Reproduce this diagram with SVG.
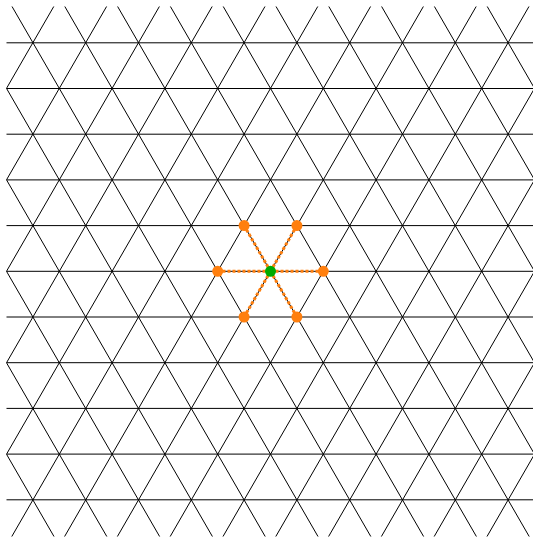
<svg xmlns="http://www.w3.org/2000/svg" width="533" height="537" viewBox="0 0 533 537">
<defs>
<clipPath id="plot"><rect x="6.5" y="6.5" width="527" height="530"/></clipPath>
<style>
.grid line{stroke:#000;stroke-width:1;fill:none}
.edge{stroke:#ff7f0e;stroke-width:3;stroke-dasharray:3 2}
.nb{fill:#ff7f0e}
.ctr{fill:#00aa00}
</style>
</defs>
<rect width="533" height="537" fill="#fff"/>
<g id="lattice" class="grid" clip-path="url(#plot)">
<line x1="0" y1="42.8" x2="540" y2="42.8"/>
<line x1="0" y1="88.5" x2="540" y2="88.5"/>
<line x1="0" y1="134.2" x2="540" y2="134.2"/>
<line x1="0" y1="179.9" x2="540" y2="179.9"/>
<line x1="0" y1="225.6" x2="540" y2="225.6"/>
<line x1="0" y1="271.3" x2="540" y2="271.3"/>
<line x1="0" y1="317" x2="540" y2="317"/>
<line x1="0" y1="362.7" x2="540" y2="362.7"/>
<line x1="0" y1="408.4" x2="540" y2="408.4"/>
<line x1="0" y1="454.1" x2="540" y2="454.1"/>
<line x1="0" y1="499.8" x2="540" y2="499.8"/>
<line x1="-312.8" y1="550" x2="10.5" y2="-10"/>
<line x1="-260" y1="550" x2="63.3" y2="-10"/>
<line x1="-207.2" y1="550" x2="116.1" y2="-10"/>
<line x1="-154.4" y1="550" x2="168.9" y2="-10"/>
<line x1="-101.6" y1="550" x2="221.7" y2="-10"/>
<line x1="-48.8" y1="550" x2="274.5" y2="-10"/>
<line x1="4" y1="550" x2="327.3" y2="-10"/>
<line x1="56.8" y1="550" x2="380.1" y2="-10"/>
<line x1="109.6" y1="550" x2="432.9" y2="-10"/>
<line x1="162.4" y1="550" x2="485.7" y2="-10"/>
<line x1="215.2" y1="550" x2="538.5" y2="-10"/>
<line x1="268" y1="550" x2="591.3" y2="-10"/>
<line x1="320.8" y1="550" x2="644.1" y2="-10"/>
<line x1="373.6" y1="550" x2="696.9" y2="-10"/>
<line x1="426.4" y1="550" x2="749.7" y2="-10"/>
<line x1="479.2" y1="550" x2="802.5" y2="-10"/>
<line x1="532" y1="550" x2="855.3" y2="-10"/>
<line x1="9" y1="550" x2="-314.3" y2="-10"/>
<line x1="61.8" y1="550" x2="-261.5" y2="-10"/>
<line x1="114.6" y1="550" x2="-208.7" y2="-10"/>
<line x1="167.4" y1="550" x2="-155.9" y2="-10"/>
<line x1="220.2" y1="550" x2="-103.1" y2="-10"/>
<line x1="273" y1="550" x2="-50.3" y2="-10"/>
<line x1="325.8" y1="550" x2="2.5" y2="-10"/>
<line x1="378.6" y1="550" x2="55.3" y2="-10"/>
<line x1="431.4" y1="550" x2="108.1" y2="-10"/>
<line x1="484.2" y1="550" x2="160.9" y2="-10"/>
<line x1="537" y1="550" x2="213.7" y2="-10"/>
<line x1="589.8" y1="550" x2="266.5" y2="-10"/>
<line x1="642.6" y1="550" x2="319.3" y2="-10"/>
<line x1="695.4" y1="550" x2="372.1" y2="-10"/>
<line x1="748.2" y1="550" x2="424.9" y2="-10"/>
<line x1="801" y1="550" x2="477.7" y2="-10"/>
<line x1="853.8" y1="550" x2="530.5" y2="-10"/>
</g>
<g id="connectors">
<line class="edge" x1="270.5" y1="271.3" x2="323.3" y2="271.3"/>
<line class="edge" x1="270.5" y1="271.3" x2="217.7" y2="271.3"/>
<line class="edge" x1="270.5" y1="271.3" x2="296.9" y2="225.6"/>
<line class="edge" x1="270.5" y1="271.3" x2="244.1" y2="225.6"/>
<line class="edge" x1="270.5" y1="271.3" x2="296.9" y2="317"/>
<line class="edge" x1="270.5" y1="271.3" x2="244.1" y2="317"/>
</g>
<g id="n-right"><circle class="nb" cx="323.3" cy="271.3" r="5.5"/></g>
<g id="n-left"><circle class="nb" cx="217.7" cy="271.3" r="5.5"/></g>
<g id="n-upright"><circle class="nb" cx="296.9" cy="225.6" r="5.5"/></g>
<g id="n-upleft"><circle class="nb" cx="244.1" cy="225.6" r="5.5"/></g>
<g id="n-downright"><circle class="nb" cx="296.9" cy="317" r="5.5"/></g>
<g id="n-downleft"><circle class="nb" cx="244.1" cy="317" r="5.5"/></g>
<g id="center"><circle class="ctr" cx="270.5" cy="271.3" r="5.5"/></g>
</svg>
